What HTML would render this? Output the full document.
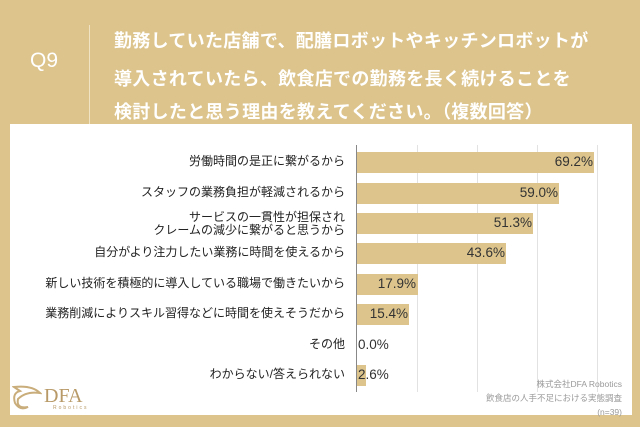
<!DOCTYPE html>
<html><head><meta charset="utf-8"><style>
body{margin:0;width:640px;height:427px;background:#dcc48c;position:relative;overflow:hidden;font-family:"Liberation Sans","Noto Sans CJK JP",sans-serif;}
.a{position:absolute;}
.panel{left:10px;top:124px;width:622px;height:291px;background:#fff;}
.t{color:#fff;font-weight:bold;font-size:18px;left:114px;white-space:nowrap;letter-spacing:0.3px;}
.grid{width:1px;background:#e2e2e2;top:145px;height:247px;}
.bar{left:357px;height:21px;background:#dcc48c;}
.lab{right:295px;font-size:12px;color:#222;text-align:right;white-space:nowrap;line-height:13px;}
.val{font-size:13.5px;color:#333;white-space:nowrap;}
</style></head><body>
<div class="a" style="left:30px;top:49px;font-size:21px;color:#fff;">Q9</div>
<div class="a" style="left:89px;top:25px;width:1px;height:99px;background:#efe3c4;"></div>
<div class="a t" style="top:27px;">勤務していた店舗で、配膳ロボットやキッチンロボットが</div>
<div class="a t" style="top:65px;">導入されていたら、飲食店での勤務を長く続けることを</div>
<div class="a t" style="top:98px;">検討したと思う理由を教えてください。（複数回答）</div>
<div class="a panel"></div>
<div class="a grid" style="left:417px"></div>
<div class="a grid" style="left:477px"></div>
<div class="a grid" style="left:537px"></div>
<div class="a grid" style="left:597px"></div>

<div class="a bar" style="top:152px;width:237px"></div>
<div class="a bar" style="top:183px;width:202px"></div>
<div class="a bar" style="top:213px;width:176px"></div>
<div class="a bar" style="top:243px;width:149px"></div>
<div class="a bar" style="top:274px;width:61px"></div>
<div class="a bar" style="top:304px;width:52px"></div>
<div class="a bar" style="top:365px;width:9px"></div>
<div class="a" style="left:356px;top:145px;width:1px;height:247px;background:#888;"></div>

<div class="a lab" style="top:155px">労働時間の是正に繋がるから</div>
<div class="a lab" style="top:186px">スタッフの業務負担が軽減されるから</div>
<div class="a lab" style="top:211px">サービスの一貫性が担保され<br>クレームの減少に繋がると思うから</div>
<div class="a lab" style="top:246px">自分がより注力したい業務に時間を使えるから</div>
<div class="a lab" style="top:277px">新しい技術を積極的に導入している職場で働きたいから</div>
<div class="a lab" style="top:307px">業務削減によりスキル習得などに時間を使えそうだから</div>
<div class="a lab" style="top:338px">その他</div>
<div class="a lab" style="top:368px">わからない/答えられない</div>

<div class="a val" style="right:47px;top:154px">69.2%</div>
<div class="a val" style="right:82px;top:185px">59.0%</div>
<div class="a val" style="right:108px;top:215px">51.3%</div>
<div class="a val" style="right:135px;top:245px">43.6%</div>
<div class="a val" style="right:224px;top:276px">17.9%</div>
<div class="a val" style="right:232px;top:306px">15.4%</div>
<div class="a val" style="left:358px;top:337px">0.0%</div>
<div class="a val" style="left:358px;top:367px">2.6%</div>

<svg class="a" style="left:12px;top:383px" width="30" height="28"><path d="M2 4 Q20 2 28 10 Q14 8 6 16 Q4 26 16 24 Q8 28 3 20 Q0 10 8 8Z" fill="none" stroke="#c9ad7a" stroke-width="2"/></svg>
<div class="a" style="left:44px;top:385px;font-family:'Liberation Serif',serif;font-size:20px;color:#b89a68;">DFA</div>
<div class="a" style="left:53px;top:405px;font-size:5px;letter-spacing:2px;color:#b89a68;">Robotics</div>
<div class="a" style="right:18px;top:377px;font-size:8.5px;color:#999;text-align:right;line-height:14px;">株式会社DFA Robotics<br>飲食店の人手不足における実態調査<br>(n=39)</div>
</body></html>
